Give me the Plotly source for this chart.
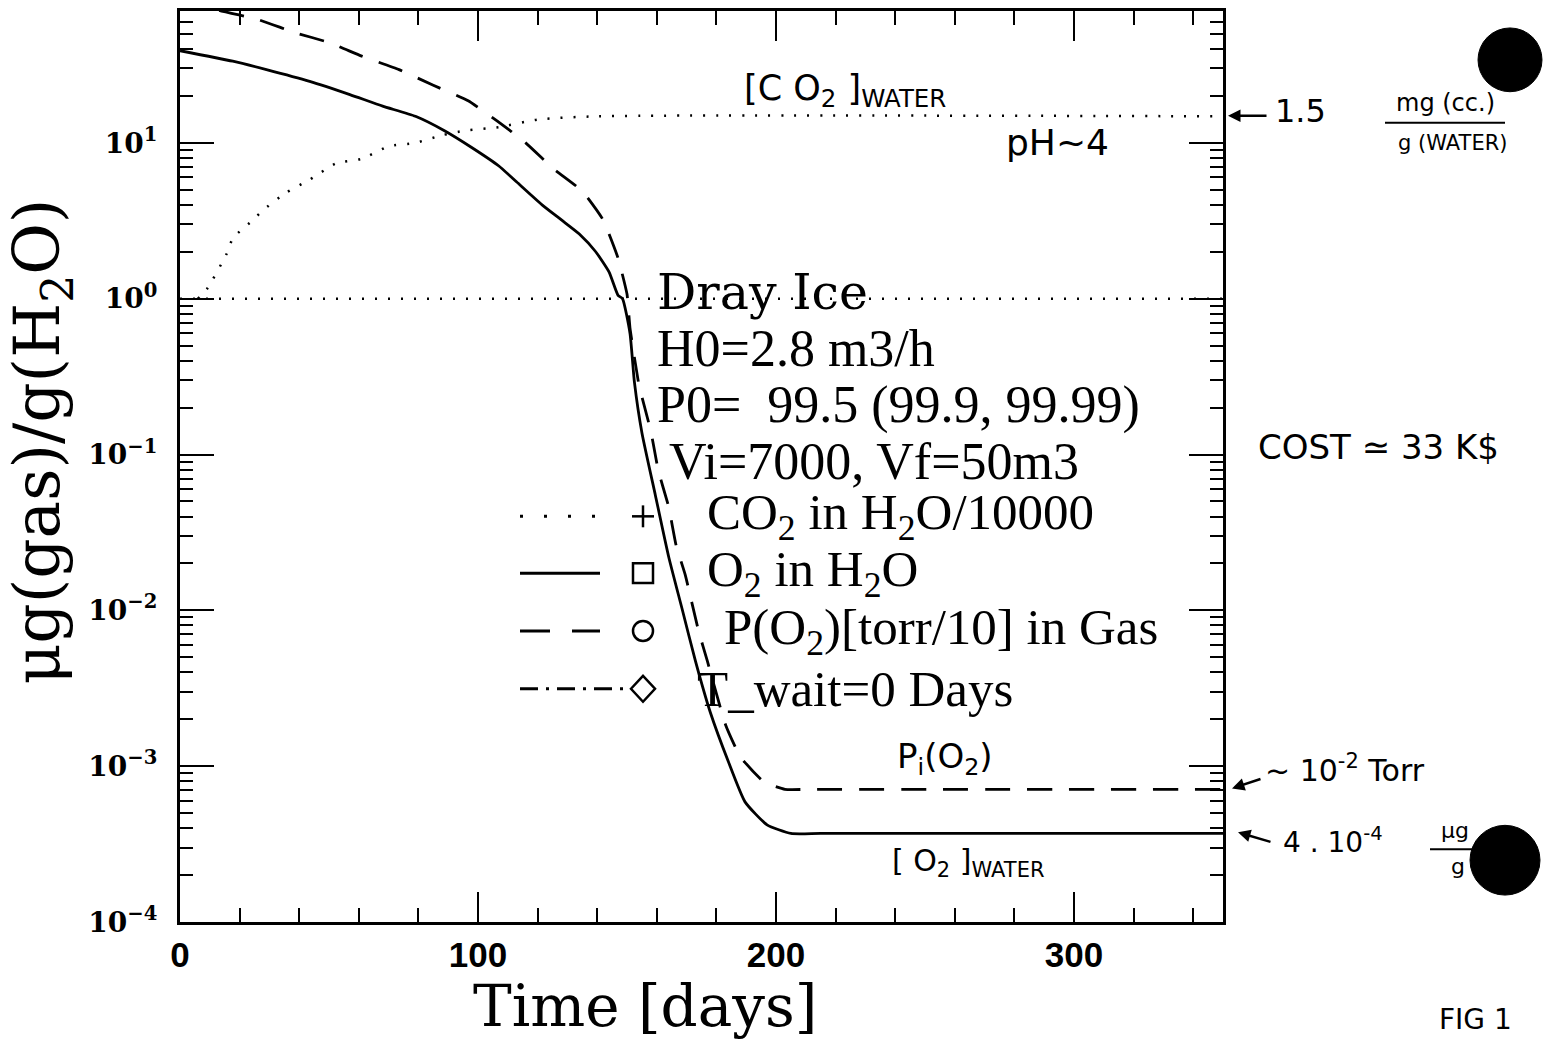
import plotly.graph_objects as go

# ---------------- data ----------------
days_o2 = [0, 17.7, 29, 43.5, 57, 68, 79, 88.6, 98, 107, 113, 121.5, 128, 134, 139.5, 144, 147,
           148.5, 151, 152.5, 155, 159.5, 164, 168.5, 173, 178, 184, 189.6, 197, 205, 215, 350]
o2_in_water = [39, 33.4, 29.5, 24.8, 20.4, 17.2, 14.8, 12.0, 9.3, 7.1, 5.6, 4.0, 3.2, 2.6, 2.0,
               1.48, 1.05, 1.0, 0.60, 0.29, 0.138, 0.055, 0.022, 0.0102, 0.0047, 0.0022,
               0.00107, 0.00059, 0.00042, 0.00037, 0.00037, 0.00037]

days_gas = [0, 13, 26, 38.5, 50, 61, 73.5, 85, 96.7, 106.5, 116, 125.4, 135, 142, 147,
            150, 151, 154, 158, 160.5, 164, 166.5, 169.5, 174, 177, 183, 188, 196, 203, 212, 350]
p_o2_gas = [88, 71, 62, 51, 44, 36, 29.5, 23.4, 18.6, 13.8, 10.0, 6.8, 4.9, 3.2, 1.82,
            1.07, 0.65, 0.28, 0.141, 0.079, 0.046, 0.026, 0.017, 0.0074, 0.0047, 0.00186,
            0.00115, 0.00079, 0.00071, 0.00071, 0.00071]

days_co2 = [6, 9, 15.7, 17.8, 24.5, 27.9, 35.7, 43.5, 52.5, 61, 70, 79, 88, 96, 107, 120, 140, 350]
co2_in_water = [1.0, 1.15, 1.95, 2.45, 3.2, 3.7, 4.8, 5.8, 7.4, 7.9, 9.5, 10.0, 11.2, 12.0,
                12.6, 14.1, 14.8, 14.8]

ref_days = [0, 350]
ref_level = [1.0, 1.0]

x_tick_vals = [0, 100, 200, 300]
x_tick_text = ["0", "100", "200", "300"]
y_tick_vals = [1e-4, 1e-3, 1e-2, 1e-1, 1e0, 1e1]
y_tick_text = ["10<sup>−4</sup>", "10<sup>−3</sup>", "10<sup>−2</sup>",
               "10<sup>−1</sup>", "10<sup>0</sup>", "10<sup>1</sup>"]

x_title = "Time [days]"
y_title = "μg(gas)/g(H<sub>2</sub>O)"
header_lines = ["Dray Ice", "H0=2.8 m3/h", "P0=  99.5 (99.9, 99.99)", "Vi=7000, Vf=50m3"]
legend_labels = ["CO<sub>2</sub> in H<sub>2</sub>O/10000", "O<sub>2</sub> in H<sub>2</sub>O",
                 "P(O<sub>2</sub>)[torr/10] in Gas", "T_wait=0 Days"]

# ---------------- geometry helpers ----------------
W, H = 1556, 1039
X0, X1, Y0, Y1 = 180, 1223, 8, 922


def px(x):
    return (x - X0) / (X1 - X0)


def py(y):
    return (Y1 - y) / (Y1 - Y0)


fig = go.Figure()

fig.add_trace(go.Scatter(x=ref_days, y=ref_level, mode="lines",
                         line=dict(color="black", width=2.5, dash="2px,11px"),
                         showlegend=False, hoverinfo="skip"))
fig.add_trace(go.Scatter(x=days_co2, y=co2_in_water, mode="lines", name="CO2 in H2O/10000",
                         line=dict(color="black", width=2.5, dash="2px,11px", shape="spline",
                                   smoothing=0.6),
                         showlegend=False))
fig.add_trace(go.Scatter(x=days_o2, y=o2_in_water, mode="lines", name="O2 in H2O",
                         line=dict(color="black", width=2.8, shape="spline", smoothing=0.5),
                         showlegend=False))
fig.add_trace(go.Scatter(x=days_gas, y=p_o2_gas, mode="lines", name="P(O2)[torr/10] in Gas",
                         line=dict(color="black", width=2.8, dash="25px,17px", shape="spline",
                                   smoothing=0.4),
                         showlegend=False))

minor_y = [k * 10.0 ** e for e in range(-4, 2) for k in range(2, 10)]

fig.update_layout(
    width=W, height=H,
    margin=dict(l=X0, r=W - X1, t=Y0, b=H - Y1),
    paper_bgcolor="white", plot_bgcolor="white",
    showlegend=False,
    font=dict(family="DejaVu Serif", color="black"),
    xaxis=dict(
        range=[0, 350], showgrid=False, zeroline=False,
        showline=True, linecolor="black", linewidth=3, mirror="ticks",
        ticks="inside", ticklen=30, tickwidth=2, tickcolor="black",
        tickmode="array", tickvals=x_tick_vals, ticktext=x_tick_text,
        tickfont=dict(family="Liberation Sans", size=35, weight="bold"),
        minor=dict(ticks="inside", ticklen=14, tickwidth=2, tickcolor="black", dtick=20,
                   showgrid=False),
    ),
    yaxis=dict(
        type="log", range=[-4, 1.846], showgrid=False, zeroline=False,
        showline=True, linecolor="black", linewidth=3, mirror="ticks",
        ticks="inside", ticklen=34, tickwidth=2, tickcolor="black",
        tickmode="array", tickvals=y_tick_vals, ticktext=y_tick_text,
        tickfont=dict(family="DejaVu Serif", size=28, weight="bold"),
        ticklabelstandoff=14,
        minor=dict(ticks="inside", ticklen=13, tickwidth=2, tickcolor="black",
                   tickmode="array", tickvals=minor_y, showgrid=False),
    ),
)

ann = []
shapes = []

# axis titles
ann.append(dict(text=x_title, x=px(645), y=py(1006), xref="paper", yref="paper",
                xanchor="center", yanchor="middle", showarrow=False,
                font=dict(family="DejaVu Serif", size=58, color="black")))
ann.append(dict(text=y_title, x=px(42), y=py(440), xref="paper", yref="paper",
                xanchor="center", yanchor="middle", showarrow=False, textangle=-90,
                font=dict(family="DejaVu Serif", size=63, color="black")))

# header text block
header_pos = [(655, 290), (655, 347), (655, 403), (667, 460)]
for i, (t, (x, y)) in enumerate(zip(header_lines, header_pos)):
    ann.append(dict(text=t, x=px(x), y=py(y), xref="paper", yref="paper", xanchor="left",
                    yanchor="middle", showarrow=False,
                    font=dict(family="DejaVu Serif" if i == 0 else "Liberation Serif",
                              size=49 if i == 0 else 52, color="black")))

# legend rows
row_y = [515, 572, 630, 688]
text_x = [705, 705, 722, 695]
for lab, y, tx in zip(legend_labels, row_y, text_x):
    ann.append(dict(text=lab, x=px(tx), y=py(y), xref="paper", yref="paper", xanchor="left",
                    yanchor="middle", showarrow=False,
                    font=dict(family="Liberation Serif", size=51, color="black")))

line_styles = [dict(width=3, dash="3px,21px"), dict(width=3), dict(width=3, dash="30px,22px"),
               dict(width=3, dash="18px,8px,3px,8px")]
line_ends = [600, 600, 600, 632]
for y, st, xe in zip(row_y, line_styles, line_ends):
    shapes.append(dict(type="line", xref="paper", yref="paper", x0=px(520), x1=px(xe),
                       y0=py(y), y1=py(y), line=dict(color="black", **st)))

mx = 643
# plus
shapes.append(dict(type="line", xref="paper", yref="paper", x0=px(mx - 11), x1=px(mx + 11),
                   y0=py(515), y1=py(515), line=dict(color="black", width=2.5)))
shapes.append(dict(type="line", xref="paper", yref="paper", x0=px(mx), x1=px(mx),
                   y0=py(504), y1=py(526), line=dict(color="black", width=2.5)))
# square
shapes.append(dict(type="rect", xref="paper", yref="paper", x0=px(mx - 10), x1=px(mx + 10),
                   y0=py(582), y1=py(562), line=dict(color="black", width=2.5)))
# circle
shapes.append(dict(type="circle", xref="paper", yref="paper", x0=px(mx - 10), x1=px(mx + 10),
                   y0=py(640), y1=py(620), line=dict(color="black", width=2.5)))
# diamond
shapes.append(dict(type="path", xref="paper", yref="paper",
                   path=f"M {px(mx-12)} {py(688)} L {px(mx)} {py(675)} L {px(mx+12)} {py(688)} "
                        f"L {px(mx)} {py(701)} Z",
                   line=dict(color="black", width=2.5)))

# handwritten notes
hand = dict(family="DejaVu Sans", color="black")


def note(text, x, y, size, anchor="center"):
    ann.append(dict(text=text, x=px(x), y=py(y), xref="paper", yref="paper", xanchor=anchor,
                    yanchor="middle", showarrow=False, font=dict(size=size, **hand)))


note("[C O<sub>2</sub> ]<sub>WATER</sub>", 845, 88, 35)
note("pH~4", 1057, 140, 36)
note("1.5", 1300, 108, 32)
note("mg (cc.)", 1445, 100, 24)
note("g (WATER)", 1452, 140, 21)
shapes.append(dict(type="line", xref="paper", yref="paper", x0=px(1385), x1=px(1505),
                   y0=py(120), y1=py(120), line=dict(color="black", width=2)))
note("COST ≃ 33 K$", 1378, 445, 34)
note("~ 10<sup>-2</sup> Torr", 1345, 768, 30)
note("4 . 10<sup>-4</sup>", 1333, 840, 28)
note("μg", 1455, 830, 22)
note("g", 1458, 866, 22)
shapes.append(dict(type="line", xref="paper", yref="paper", x0=px(1430), x1=px(1482),
                   y0=py(849), y1=py(849), line=dict(color="black", width=2)))
note("P<sub>i</sub>(O<sub>2</sub>)", 945, 758, 34)
note("[ O<sub>2</sub> ]<sub>WATER</sub>", 968, 862, 30)
note("FIG 1", 1475, 1020, 28)

# arrows (head at hx,hy; tail at tx,ty; pixel offsets)
for (hx, hy, tx, ty) in [(1228, 113, 1268, 113), (1232, 788, 1262, 778), (1238, 832, 1272, 842)]:
    ann.append(dict(text="", x=px(hx), y=py(hy), xref="paper", yref="paper",
                    ax=tx - hx, ay=ty - hy, showarrow=True,
                    arrowhead=2, arrowsize=1, arrowwidth=2.5, arrowcolor="black"))

# punched holes
for (cx, cy, r) in [(1510, 57, 32), (1505, 860, 35)]:
    shapes.append(dict(type="circle", xref="paper", yref="paper", x0=px(cx - r), x1=px(cx + r),
                       y0=py(cy + r), y1=py(cy - r), fillcolor="black",
                       line=dict(color="black", width=1)))

fig.update_layout(annotations=ann, shapes=shapes)
fig.write_html("out.html")
